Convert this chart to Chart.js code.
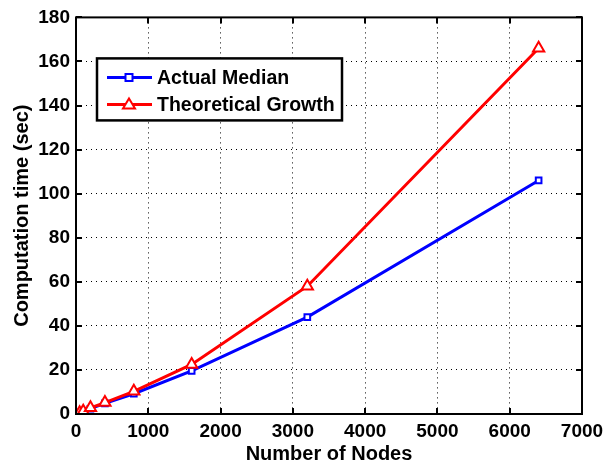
<!DOCTYPE html>
<html>
<head>
<meta charset="utf-8">
<script src="https://cdn.jsdelivr.net/npm/chart.js@4/dist/chart.umd.min.js"></script>
<style>
  html, body { margin: 0; padding: 0; background: #fff; }
  #wrap { width: 615px; height: 464px; }
</style>
</head>
<body>
<div id="wrap"><canvas id="dataChart" width="615" height="464"></canvas></div>
<script>
// node counts on the x axis
const nodes = [50, 100, 200, 400, 800, 1600, 3200, 6400];
// measured median time (sec)
const actualMedian = [0.6, 1.2, 2.4, 4.8, 9.2, 19.6, 44, 106];
// theoretical growth curve (sec)
const theoreticalGrowth = [0.6, 1.3, 2.8, 5.2, 10.3, 22.5, 58, 166];

const xTicks = [0, 1000, 2000, 3000, 4000, 5000, 6000, 7000];
const yTicks = [0, 20, 40, 60, 80, 100, 120, 140, 160, 180];

const FONT = "'Liberation Sans', Arial, Helvetica, sans-serif";
Chart.defaults.font.family = FONT;

function toPoints(xs, ys) {
    return xs.map((x, i) => ({ x: x, y: ys[i] }));
}

// matlab style frame, inward tick marks and boxed legend
const matlabFrame = {
    id: 'matlabFrame',
    afterDatasetsDraw(chart) {
        const ctx = chart.ctx;
        const a = chart.chartArea;
        const xs = chart.scales.x;
        const ys = chart.scales.y;
        ctx.save();
        ctx.strokeStyle = '#000';
        ctx.lineWidth = 2;
        const len = 6;
        ctx.beginPath();
        xTicks.forEach((v) => {
            const px = Math.round(xs.getPixelForValue(v));
            ctx.moveTo(px, a.bottom); ctx.lineTo(px, a.bottom - len);
            ctx.moveTo(px, a.top); ctx.lineTo(px, a.top + len);
        });
        yTicks.forEach((v) => {
            const py = Math.round(ys.getPixelForValue(v));
            ctx.moveTo(a.left, py); ctx.lineTo(a.left + len, py);
            ctx.moveTo(a.right, py); ctx.lineTo(a.right - len, py);
        });
        ctx.stroke();
        ctx.strokeRect(a.left, a.top, a.right - a.left, a.bottom - a.top);

        // legend box
        const lx = a.left + 21, ly = a.top + 41, lw = 245, lh = 62;
        ctx.fillStyle = '#fff';
        ctx.fillRect(lx, ly, lw, lh);
        ctx.lineWidth = 2.5;
        ctx.strokeRect(lx, ly, lw, lh);
        ctx.font = 'bold 19.5px ' + FONT;
        ctx.textBaseline = 'middle';
        const items = [chart.data.datasets[1], chart.data.datasets[0]];
        items.forEach((ds, i) => {
            const cy = ly + 19 + i * 27;
            ctx.strokeStyle = ds.borderColor;
            ctx.lineWidth = 3;
            ctx.beginPath();
            ctx.moveTo(lx + 10, cy); ctx.lineTo(lx + 55, cy);
            ctx.stroke();
            ctx.lineWidth = 2;
            ctx.fillStyle = '#fff';
            ctx.beginPath();
            if (ds.pointStyle === 'rect') {
                ctx.rect(lx + 28.5, cy - 3.5, 7, 7);
            } else {
                ctx.moveTo(lx + 32, cy - 6);
                ctx.lineTo(lx + 38, cy + 4);
                ctx.lineTo(lx + 26, cy + 4);
                ctx.closePath();
            }
            ctx.fill();
            ctx.stroke();
            ctx.fillStyle = '#000';
            ctx.fillText(ds.label, lx + 60, cy + 1);
        });
        ctx.restore();
    }
};

const chart = new Chart(
    document.getElementById('dataChart'),
    {
        type: 'line',
        data: {
            datasets: [
                {
                    label: 'Theoretical Growth',
                    data: toPoints(nodes, theoreticalGrowth),
                    borderColor: '#ff0000',
                    backgroundColor: '#ffffff',
                    borderWidth: 3,
                    pointStyle: 'triangle',
                    pointRadius: 6.5,
                    pointBorderWidth: 2,
                    tension: 0
                },
                {
                    label: 'Actual Median',
                    data: toPoints(nodes, actualMedian),
                    borderColor: '#0000ff',
                    backgroundColor: '#ffffff',
                    borderWidth: 3,
                    pointStyle: 'rect',
                    pointRadius: 4,
                    pointBorderWidth: 2,
                    tension: 0
                }
            ]
        },
        options: {
            responsive: false,
            animation: false,
            layout: { padding: { top: 15, right: 33, left: 0, bottom: 0 } },
            plugins: {
                legend: { display: false },
                tooltip: { enabled: false }
            },
            scales: {
                x: {
                    type: 'linear',
                    min: 0,
                    max: 7000,
                    afterBuildTicks: (s) => { s.ticks = xTicks.map(v => ({ value: v })); },
                    afterFit: (s) => { s.height = 50; },
                    grid: {
                        color: '#000',
                        lineWidth: 1,
                        drawTicks: false
                    },
                    border: { display: false, dash: [1, 4] },
                    ticks: {
                        color: '#000',
                        padding: 6,
                        maxRotation: 0,
                        callback: (v) => String(v),
                        font: { family: FONT, size: 19, weight: 'bold' }
                    },
                    title: {
                        display: true,
                        text: 'Number of Nodes',
                        color: '#000',
                        padding: { top: 0, bottom: -2 },
                        font: { family: FONT, size: 20, weight: 'bold' }
                    }
                },
                y: {
                    min: 0,
                    max: 180,
                    afterBuildTicks: (s) => { s.ticks = yTicks.map(v => ({ value: v })); },
                    afterFit: (s) => { s.width = 76; },
                    grid: {
                        color: '#000',
                        lineWidth: 1,
                        drawTicks: false
                    },
                    border: { display: false, dash: [1, 4] },
                    ticks: {
                        color: '#000',
                        padding: 6,
                        callback: (v) => String(v),
                        font: { family: FONT, size: 19, weight: 'bold' }
                    },
                    title: {
                        display: true,
                        text: 'Computation time (sec)',
                        color: '#000',
                        padding: { top: 10, bottom: 0 },
                        font: { family: FONT, size: 20, weight: 'bold' }
                    }
                }
            }
        },
        plugins: [matlabFrame]
    }
);
</script>
</body>
</html>
